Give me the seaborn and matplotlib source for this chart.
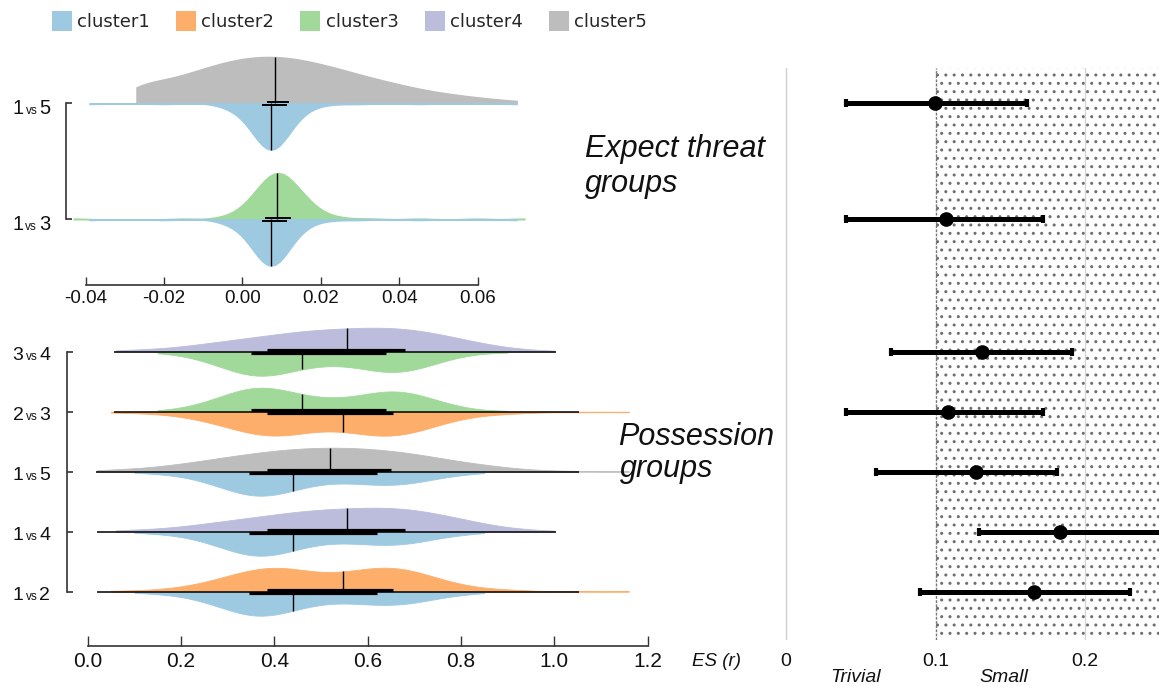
import numpy as np
import pandas as pd
import matplotlib
matplotlib.use("Agg")
import matplotlib.pyplot as plt
import seaborn as sns
from matplotlib.patches import Patch
from matplotlib.offsetbox import TextArea, HPacker, AnnotationBbox

# ---------------- data ----------------
cluster_names = ["cluster1", "cluster2", "cluster3", "cluster4", "cluster5"]
cluster_colors = ["#9ecae1", "#fdae6b", "#a1d99b", "#bcbddc", "#bdbdbd"]

# Expect threat groups: pairs, upper / lower cluster of each split violin
threat_pairs = ["1vs5", "1vs3"]
threat_top = [5, 3]
threat_bottom = [1, 1]

# ES samples, summarised as value / count
threat_c1_values = [-0.039, -0.020, -0.006, -0.004, -0.002, 0.000, 0.002, 0.004, 0.006, 0.008,
                    0.010, 0.012, 0.014, 0.016, 0.018, 0.020, 0.024, 0.030, 0.045, 0.070]
threat_c1_counts = [1, 1, 1, 2, 3, 5, 9, 15, 20, 21, 17, 11, 6, 3, 2, 1, 1, 1, 1, 1]
threat_c3_values = [-0.043, -0.015, -0.006, -0.004, -0.002, 0.000, 0.002, 0.004, 0.006, 0.008, 0.010,
                    0.012, 0.014, 0.016, 0.018, 0.020, 0.023, 0.027, 0.033, 0.045, 0.060, 0.072]
threat_c3_counts = [1, 1, 1, 1, 2, 4, 7, 11, 16, 19, 19, 16, 12, 8, 5, 3, 2, 1, 1, 1, 1, 1]
threat_c5_values = [-0.027, -0.025, -0.020, -0.015, -0.010, -0.005, 0.000, 0.005, 0.010, 0.015, 0.020,
                    0.025, 0.030, 0.035, 0.040, 0.045, 0.050, 0.055, 0.060, 0.065, 0.070]
threat_c5_counts = [10, 10, 14, 18, 22, 26, 29, 30, 30, 28, 25, 22, 18, 15, 12, 9, 7, 5, 4, 2, 2]

threat_clusters = [1, 3, 5]
threat_q1 = [0.0050, 0.0059, 0.0063]
threat_median = [0.0074, 0.0088, 0.0084]
threat_q3 = [0.0113, 0.0123, 0.0119]

# Possession groups
poss_pairs = ["3vs4", "2vs3", "1vs5", "1vs4", "1vs2"]
poss_top = [4, 3, 5, 4, 2]
poss_bottom = [3, 2, 1, 1, 1]
poss_whisker_lo = [0.056, 0.056, 0.018, 0.020, 0.020]
poss_whisker_hi = [1.004, 1.053, 1.053, 1.004, 1.053]

poss_c1_values = [0.10, 0.15, 0.20, 0.25, 0.30, 0.35, 0.40, 0.45, 0.50, 0.55, 0.60, 0.65, 0.70, 0.75, 0.80, 0.85]
poss_c1_counts = [1, 2, 4, 9, 17, 24, 23, 16, 11, 10, 12, 13, 11, 6, 3, 1]
poss_c2_values = [0.05, 0.10, 0.15, 0.20, 0.25, 0.30, 0.35, 0.40, 0.45, 0.50, 0.55, 0.60, 0.65, 0.70,
                  0.75, 0.80, 0.85, 0.90, 0.95, 1.05, 1.16]
poss_c2_counts = [1, 1, 2, 4, 8, 14, 20, 23, 20, 16, 17, 21, 23, 19, 12, 6, 3, 2, 1, 1, 1]
poss_c3_values = [0.15, 0.20, 0.25, 0.30, 0.35, 0.40, 0.45, 0.50, 0.55, 0.60, 0.65, 0.70, 0.75, 0.80, 0.85, 0.90]
poss_c3_counts = [1, 3, 8, 16, 23, 22, 16, 12, 12, 16, 20, 17, 10, 4, 1, 1]
poss_c4_values = [0.06, 0.10, 0.15, 0.20, 0.25, 0.30, 0.35, 0.40, 0.45, 0.50, 0.55, 0.60, 0.65, 0.70,
                  0.75, 0.80, 0.85, 0.90, 0.95, 1.00]
poss_c4_counts = [1, 2, 3, 5, 8, 11, 14, 17, 20, 22, 23, 24, 24, 22, 18, 13, 8, 4, 2, 1]
poss_c5_values = [0.02, 0.05, 0.10, 0.15, 0.20, 0.25, 0.30, 0.35, 0.40, 0.45, 0.50, 0.55, 0.60, 0.65,
                  0.70, 0.75, 0.80, 0.85, 0.90, 0.95, 1.00, 1.05, 1.16]
poss_c5_counts = [1, 2, 3, 5, 8, 11, 15, 18, 21, 23, 24, 24, 23, 21, 18, 14, 10, 7, 4, 2, 1, 1, 1]

poss_clusters = [1, 2, 3, 4, 5]
poss_q1 = [0.345, 0.385, 0.350, 0.385, 0.385]
poss_median = [0.440, 0.547, 0.460, 0.555, 0.520]
poss_q3 = [0.620, 0.655, 0.640, 0.680, 0.650]

# Forest plot of effect sizes (same row order as the violins, top to bottom)
forest_pairs = ["1vs5", "1vs3", "3vs4", "2vs3", "1vs5", "1vs4", "1vs2"]
forest_es = [0.0996, 0.1067, 0.1313, 0.1085, 0.1273, 0.1834, 0.1659]
forest_lo = [0.0403, 0.0403, 0.0702, 0.0403, 0.0604, 0.1293, 0.0896]
forest_hi = [0.1615, 0.1716, 0.1913, 0.1716, 0.1810, 0.2650, 0.2301]

threat_ticks = [-0.04, -0.02, 0.00, 0.02, 0.04, 0.06]
poss_ticks = [0.0, 0.2, 0.4, 0.6, 0.8, 1.0, 1.2]
forest_ticks = [0, 0.1, 0.2]
forest_ticklabels = ["0", "0.1", "0.2"]
zone_names = ["Trivial", "Small"]
zone_label_x = [0.0465, 0.1458]

# ---------------- style ----------------
sns.set_style("white")
plt.rcParams["font.family"] = ["Liberation Sans", "DejaVu Sans"]
plt.rcParams["axes.unicode_minus"] = False
plt.rcParams["hatch.linewidth"] = 1.0

W, H = 1159, 686
fig = plt.figure(figsize=(W / 100, H / 100), dpi=100)


def rect(left, top, right, bottom):
    return [left / W, 1 - bottom / H, (right - left) / W, (bottom - top) / H]


threat_samples = {
    1: np.repeat(threat_c1_values, threat_c1_counts),
    3: np.repeat(threat_c3_values, threat_c3_counts),
    5: np.repeat(threat_c5_values, threat_c5_counts),
}
poss_samples = {
    1: np.repeat(poss_c1_values, poss_c1_counts),
    2: np.repeat(poss_c2_values, poss_c2_counts),
    3: np.repeat(poss_c3_values, poss_c3_counts),
    4: np.repeat(poss_c4_values, poss_c4_counts),
    5: np.repeat(poss_c5_values, poss_c5_counts),
}


def draw_group(ax, pairs, tops, bottoms, samples, clusters, q1s, meds, q3s,
               bw_adjust, box_off, box_lw, edge_lw):
    for i, (pair, t, b) in enumerate(zip(pairs, tops, bottoms)):
        df = pd.concat([
            pd.DataFrame({"value": samples[t], "pair": pair, "side": "top"}),
            pd.DataFrame({"value": samples[b], "pair": pair, "side": "bottom"}),
        ], ignore_index=True)
        n0 = len(ax.collections)
        sns.violinplot(data=df, x="value", y="pair", hue="side", hue_order=["top", "bottom"],
                       order=pairs, split=True, inner=None, cut=0, density_norm="width",
                       bw_adjust=bw_adjust, palette=[cluster_colors[t - 1], cluster_colors[b - 1]],
                       saturation=1, linewidth=edge_lw, orient="h", legend=False, ax=ax)
        for coll in ax.collections[n0:]:
            fc = coll.get_facecolor()
            coll.set_edgecolor(fc)
            coll.set_linewidth(edge_lw)
            verts = np.vstack([p.vertices for p in coll.get_paths()])
            yv = np.round(verts[:, 1], 9)
            vals, cnts = np.unique(yv, return_counts=True)
            yc = vals[np.argmax(cnts)]
            curve = verts[np.abs(yv - yc) > 1e-9]
            if len(curve) == 0:
                continue
            top_side = curve[:, 1].mean() < yc
            cl = t if top_side else b
            k = clusters.index(cl)
            order_idx = np.argsort(curve[:, 0])
            edge = np.interp(meds[k], curve[order_idx, 0], curve[order_idx, 1])
            ax.plot([meds[k], meds[k]], [yc, edge], color="black", lw=1.0,
                    solid_capstyle="butt", zorder=5)
            off = -box_off if top_side else box_off
            ax.plot([q1s[k], q3s[k]], [yc + off, yc + off], color="black", lw=box_lw,
                    solid_capstyle="butt", zorder=6)


def pair_labels(ax, pairs, big, small, family, dx, dy):
    for i, pair in enumerate(pairs):
        a, b = pair.split("vs")
        children = [
            TextArea(a, textprops=dict(fontsize=big, family=family, color="#111111")),
            TextArea("vs", textprops=dict(fontsize=small, family=family, color="#111111")),
            TextArea(b, textprops=dict(fontsize=big, family=family, color="#111111")),
        ]
        pack = HPacker(children=children, align="baseline", pad=0, sep=1.5)
        ab = AnnotationBbox(pack, (0, i), xybox=(dx, dy), xycoords=ax.get_yaxis_transform(),
                            boxcoords="offset points", box_alignment=(1, 0.5),
                            frameon=False, pad=0, annotation_clip=False)
        ax.add_artist(ab)


def style_axis(ax, n, ticks, ticklabels, xbounds, tick_len_x, label_size, label_family):
    sns.despine(ax=ax, top=True, right=True)
    ax.spines["left"].set_bounds(0, n - 1)
    ax.spines["bottom"].set_bounds(*xbounds)
    for s in ("left", "bottom"):
        ax.spines[s].set_color("#333333")
        ax.spines[s].set_linewidth(1.2)
    ax.set_yticks(range(n))
    ax.set_yticklabels([])
    ax.tick_params(axis="y", left=True, direction="in", length=4.5, width=1.2, color="#333333")
    ax.set_xticks(ticks)
    ax.set_xticklabels(ticklabels, fontsize=label_size, family=label_family, color="#111111")
    ax.tick_params(axis="x", bottom=True, direction="in", length=tick_len_x, width=1.0,
                   color="#333333", pad=4)
    ax.set_xlabel("")
    ax.set_ylabel("")
    ax.set_facecolor("none")


# ---------------- expect threat violins ----------------
ax_t = fig.add_axes(rect(65.7, 50, 525, 284.7))
draw_group(ax_t, threat_pairs, threat_top, threat_bottom, threat_samples,
           threat_clusters, threat_q1, threat_median, threat_q3,
           bw_adjust=0.75, box_off=0.0142, box_lw=1.4, edge_lw=1.0)
ax_t.set_xlim((65.7 - 242.3) / 3920, (525 - 242.3) / 3920)
ax_t.set_ylim((284.7 - 103.3) / 116, (50 - 103.3) / 116)
style_axis(ax_t, len(threat_pairs), threat_ticks, [f"{v:.2f}" for v in threat_ticks],
           (threat_ticks[0], threat_ticks[-1]), 5.5, 13.5, ["Liberation Sans", "DejaVu Sans"])
pair_labels(ax_t, threat_pairs, 14.5, 8.5, ["Liberation Sans", "DejaVu Sans"], -11, -4)

# ---------------- possession violins ----------------
ax_p = fig.add_axes(rect(67, 315, 660, 646))
draw_group(ax_p, poss_pairs, poss_top, poss_bottom, poss_samples,
           poss_clusters, poss_q1, poss_median, poss_q3,
           bw_adjust=0.7, box_off=0.022, box_lw=2.3, edge_lw=0.6)
for i in range(len(poss_pairs)):
    ax_p.hlines(i, poss_whisker_lo[i], poss_whisker_hi[i], color="black", lw=1.1, zorder=4)
ax_p.set_xlim((67 - 87.7) / 466.5, (660 - 87.7) / 466.5)
ax_p.set_ylim((646 - 351.7) / 60, (315 - 351.7) / 60)
narrow = ["Liberation Sans Narrow", "Liberation Sans", "DejaVu Sans"]
style_axis(ax_p, len(poss_pairs), poss_ticks, [f"{v:.1f}" for v in poss_ticks],
           (poss_ticks[0], poss_ticks[-1]), 7.5, 15, narrow)
pair_labels(ax_p, poss_pairs, 14, 8.5, narrow, -12, -3)

# ---------------- forest plot ----------------
ax_f = fig.add_axes(rect(770, 68, 1159, 640))
ax_f.set_xlim((770 - 786) / 1495, (1159 - 786) / 1495)
ax_f.set_ylim(0, 1)
for s in ax_f.spines.values():
    s.set_visible(False)
ax_f.set_facecolor("none")

# row heights aligned with the violin rows
row_disp = [ax_t.transData.transform((0, i))[1] for i in range(len(threat_pairs))] + \
           [ax_p.transData.transform((0, i))[1] for i in range(len(poss_pairs))]
forest_y = [ax_f.transAxes.inverted().transform((0, d))[1] for d in row_disp]

ax_f.axvspan(0.1, 0.3, facecolor="white", edgecolor="#6e6e6e", hatch="..", lw=0, zorder=0)
ax_f.axvline(0, color="#cfcfcf", lw=1.0, zorder=1)
ax_f.axvline(0.2, color="#d4d4d4", lw=0.9, zorder=1)
ax_f.axvline(0.1, color="#777777", lw=1.0, ls=(0, (2, 1)), zorder=1)
es = np.array(forest_es)
ax_f.errorbar(es, forest_y, xerr=[es - np.array(forest_lo), np.array(forest_hi) - es],
              fmt="o", color="black", ms=9.5, elinewidth=3.6, capsize=2.9, capthick=3.0, zorder=4)
ax_f.set_xticks(forest_ticks)
ax_f.set_xticklabels(forest_ticklabels, fontsize=14, color="#111111")
ax_f.tick_params(axis="x", bottom=False, length=0, pad=9)
ax_f.set_yticks([])
for name, x in zip(zone_names, zone_label_x):
    ax_f.text(x, -0.066, name, transform=ax_f.get_xaxis_transform(), ha="center", va="center",
              fontsize=14, style="italic", color="#111111")

fig.text(716.6 / W, 1 - 661 / H, "ES (r)", ha="center", va="center", fontsize=13.5,
         style="italic", color="#111111")

# ---------------- group titles ----------------
title_kw = dict(fontsize=22, style="italic", color="#111111", ha="left", va="baseline")
fig.text(585 / W, 1 - 157 / H, "Expect threat", **title_kw)
fig.text(585 / W, 1 - 192 / H, "groups", **title_kw)
fig.text(618 / W, 1 - 445 / H, "Possession", **title_kw)
fig.text(620 / W, 1 - 477 / H, "groups", **title_kw)

# ---------------- legend ----------------
handles = [Patch(facecolor=c, edgecolor="none") for c in cluster_colors]
fig.legend(handles, cluster_names, loc="center", bbox_to_anchor=(349.5 / W, 1 - 21 / H),
           ncol=5, frameon=False, prop={"family": "DejaVu Sans", "size": 13},
           handlelength=1.1, handleheight=1.3, handletextpad=0.3, columnspacing=1.45)

fig.savefig("out.png", dpi=100)
